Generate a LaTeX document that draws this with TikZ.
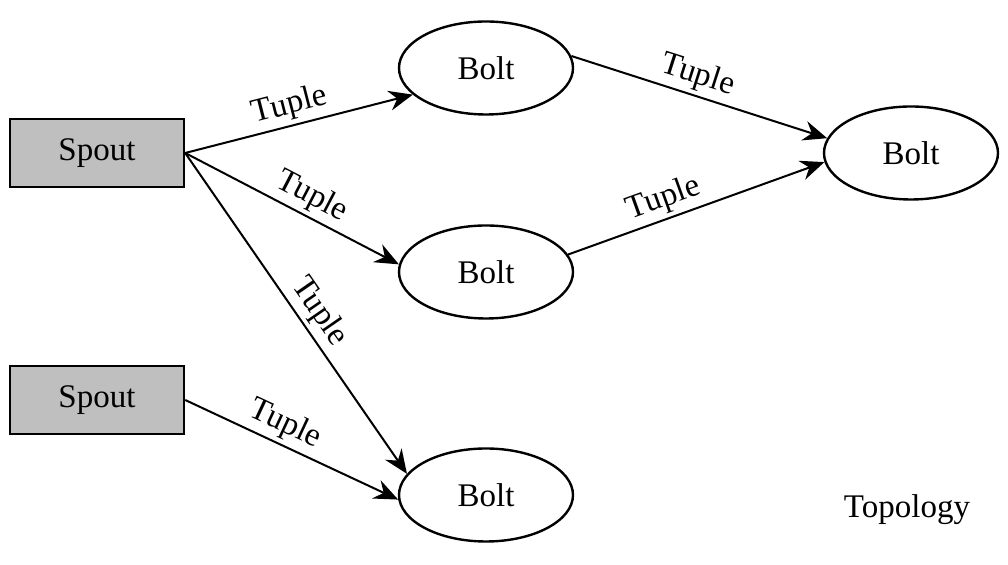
\documentclass[tikz,border=0pt]{standalone}
\usepackage{fontspec}
\setmainfont{Liberation Serif}
\usetikzlibrary{arrows.meta,shapes.geometric}

\begin{document}
\begin{tikzpicture}[x=0.5pt, y=-0.5pt, font=\fontsize{16.5}{20}\selectfont,
  spout/.style={draw, line width=1.2pt, fill=gray!50, minimum width=87pt, minimum height=34pt},
  bolt/.style={draw, line width=1.2pt, ellipse, minimum width=87pt, minimum height=46.5pt},
  flow/.style={line width=1pt, -{Stealth[length=12pt, width=10pt, inset=4pt]}},
  lbl/.style={sloped, above, inner sep=2pt}]
\useasboundingbox (0, 0) rectangle (1008, 565);
\node (spoutA) [spout] at (97, 153) {Spout};
\node (spoutB) [spout] at (97, 400) {Spout};
\node (boltA) [bolt] at (486, 68) {Bolt};
\node (boltB) [bolt] at (486, 272) {Bolt};
\node (boltC) [bolt] at (486, 495) {Bolt};
\node (boltD) [bolt] at (911, 153) {Bolt};
\node (topo) at (907, 510) {Topology};
\draw [flow] (spoutA.east) to node [lbl, pos=0.48] {Tuple} (boltA.200);
\draw [flow] (spoutA.east) to node [lbl, pos=0.55] {Tuple} (boltB.175);
\draw [flow] (spoutA.east) to node [lbl, pos=0.53] {Tuple} (boltC.165);
\draw [flow] (spoutB.east) to node [lbl, pos=0.43] {Tuple} (boltC.183);
\draw [flow] (boltA.8) to node [lbl, pos=0.47] {Tuple} (boltD.170);
\draw [flow] (boltB.12) to node [lbl, pos=0.4] {Tuple} (boltD.186);
\end{tikzpicture}
\end{document}
